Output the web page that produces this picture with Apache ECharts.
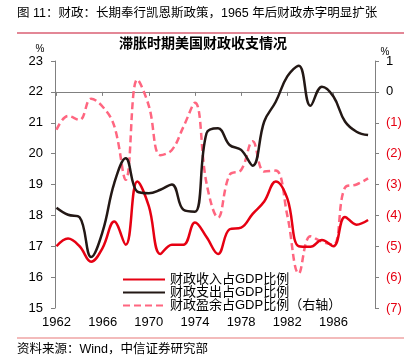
<!DOCTYPE html>
<html><head><meta charset="utf-8">
<script src="https://cdn.jsdelivr.net/npm/echarts@6/dist/echarts.min.js"></script>
<style>html,body{margin:0;padding:0;background:#fff}#c{width:416px;height:360px}</style>
</head><body><div id="c"></div>
<script>
const years = [1962,1963,1964,1965,1966,1967,1968,1969,1970,1971,1972,1973,1974,1975,1976,1977,1978,1979,1980,1981,1982,1983,1984,1985,1986,1987,1988,1989];
const revenue = [17.0,17.25,17.0,16.5,16.95,17.8,17.05,19.1,18.3,16.75,17.05,17.05,17.77,17.3,16.75,17.55,17.6,18.05,18.45,19.1,18.55,17.0,16.98,17.2,17.0,17.95,17.7,17.85];
const outlays = [18.25,18.02,17.94,16.65,17.48,19.04,19.85,18.77,18.72,18.83,19.0,18.18,18.12,20.66,20.82,20.28,20.12,19.61,21.04,21.68,22.5,22.85,21.55,22.17,21.85,21.04,20.71,20.6];
const surplus = [-1.23,-0.78,-0.91,-0.22,-0.48,-1.1,-2.85,0.4,-0.45,-2.05,-1.88,-1.13,-0.35,-2.96,-4.07,-2.69,-2.53,-1.6,-2.58,-2.55,-4.0,-5.88,-4.68,-4.85,-4.95,-3.1,-3.0,-2.8];
const xTicks = [1962,1966,1970,1974,1978,1982,1986];
const seriesNames = ['财政收入占GDP比例','财政支出占GDP比例','财政盈余占GDP比例（右轴）'];
const headerText = '图 11：财政：长期奉行凯恩斯政策，1965 年后财政赤字明显扩张';
const chartTitle = '滞胀时期美国财政收支情况';
const sourceText = '资料来源：Wind，中信证券研究部';

const FF = '"Liberation Sans","Noto Sans CJK SC",sans-serif';
const pair = arr => years.map((y,i)=>[y,arr[i]]);
const chart = echarts.init(document.getElementById('c'));
chart.setOption({
  animation:false,
  textStyle:{fontFamily:FF},
  grid:{left:55,right:41,top:61,bottom:52},
  xAxis:{type:'value',min:1961.87,max:1989.6,
    axisLine:{lineStyle:{color:'#808080'}},
    axisTick:{show:true,length:4,customValues:xTicks,lineStyle:{color:'#808080'}},
    axisLabel:{customValues:xTicks,formatter:v=>String(Math.round(v)),color:'#000',fontSize:13,margin:8,fontFamily:FF},
    splitLine:{show:false}},
  yAxis:[
    {type:'value',min:15,max:23,interval:1,position:'left',
     axisLine:{show:true,lineStyle:{color:'#808080'}},
     axisTick:{show:true,length:4,lineStyle:{color:'#808080'}},
     axisLabel:{color:'#000',fontSize:13,margin:12,fontFamily:FF},
     splitLine:{show:false}},
    {type:'value',min:-7,max:1,interval:1,position:'right',
     axisLine:{show:true,lineStyle:{color:'#808080'}},
     axisTick:{show:true,length:4,lineStyle:{color:'#808080'}},
     axisLabel:{fontSize:13,margin:11,fontFamily:FF,
       formatter:v=>v<0?'('+Math.abs(v)+')':String(v),
       color:v=>Number(v)<0?'#e60012':'#000'},
     splitLine:{show:false}}
  ],
  legend:{orient:'vertical',left:117,top:268,itemWidth:42,itemHeight:10,itemGap:0,
    itemStyle:{opacity:0},
    textStyle:{fontSize:13,lineHeight:13,color:'#000',fontFamily:FF},
    data:seriesNames},
  series:[
    {name:seriesNames[0],type:'line',data:pair(revenue),yAxisIndex:0,smooth:0.4,symbol:'none',
     lineStyle:{color:'#e60012',width:2.5},itemStyle:{color:'#e60012'}},
    {name:seriesNames[1],type:'line',data:pair(outlays),yAxisIndex:0,smooth:0.4,symbol:'none',
     lineStyle:{color:'#231815',width:2.5},itemStyle:{color:'#231815'}},
    {name:seriesNames[2],type:'line',data:pair(surplus),yAxisIndex:1,smooth:0.4,symbol:'none',z:1,
     lineStyle:{color:'#ff6680',width:2.5,type:[7,4]},itemStyle:{color:'#ff6680'}}
  ],
  graphic:[
    {type:'text',left:17,top:7,style:{text:headerText,fontSize:12.5,fill:'#000',fontFamily:FF}},
    {type:'line',shape:{x1:17,y1:33,x2:404,y2:33},style:{stroke:'#c8102e',lineWidth:1.2}},
    {type:'text',x:203,y:44,style:{text:chartTitle,fontSize:14,fontWeight:'bold',fill:'#000',align:'center',verticalAlign:'middle',fontFamily:FF}},
    {type:'text',x:40,y:49,style:{text:'%',fontSize:10,fill:'#000',align:'center',verticalAlign:'middle',fontFamily:FF}},
    {type:'text',x:385,y:52,style:{text:'%',fontSize:10,fill:'#000',align:'center',verticalAlign:'middle',fontFamily:FF}},
    {type:'line',shape:{x1:17,y1:338,x2:404,y2:338},style:{stroke:'#e87878',lineWidth:1.2}},
    {type:'text',left:17,top:343,style:{text:sourceText,fontSize:12.5,fill:'#000',fontFamily:FF}}
  ]
});
</script></body></html>
